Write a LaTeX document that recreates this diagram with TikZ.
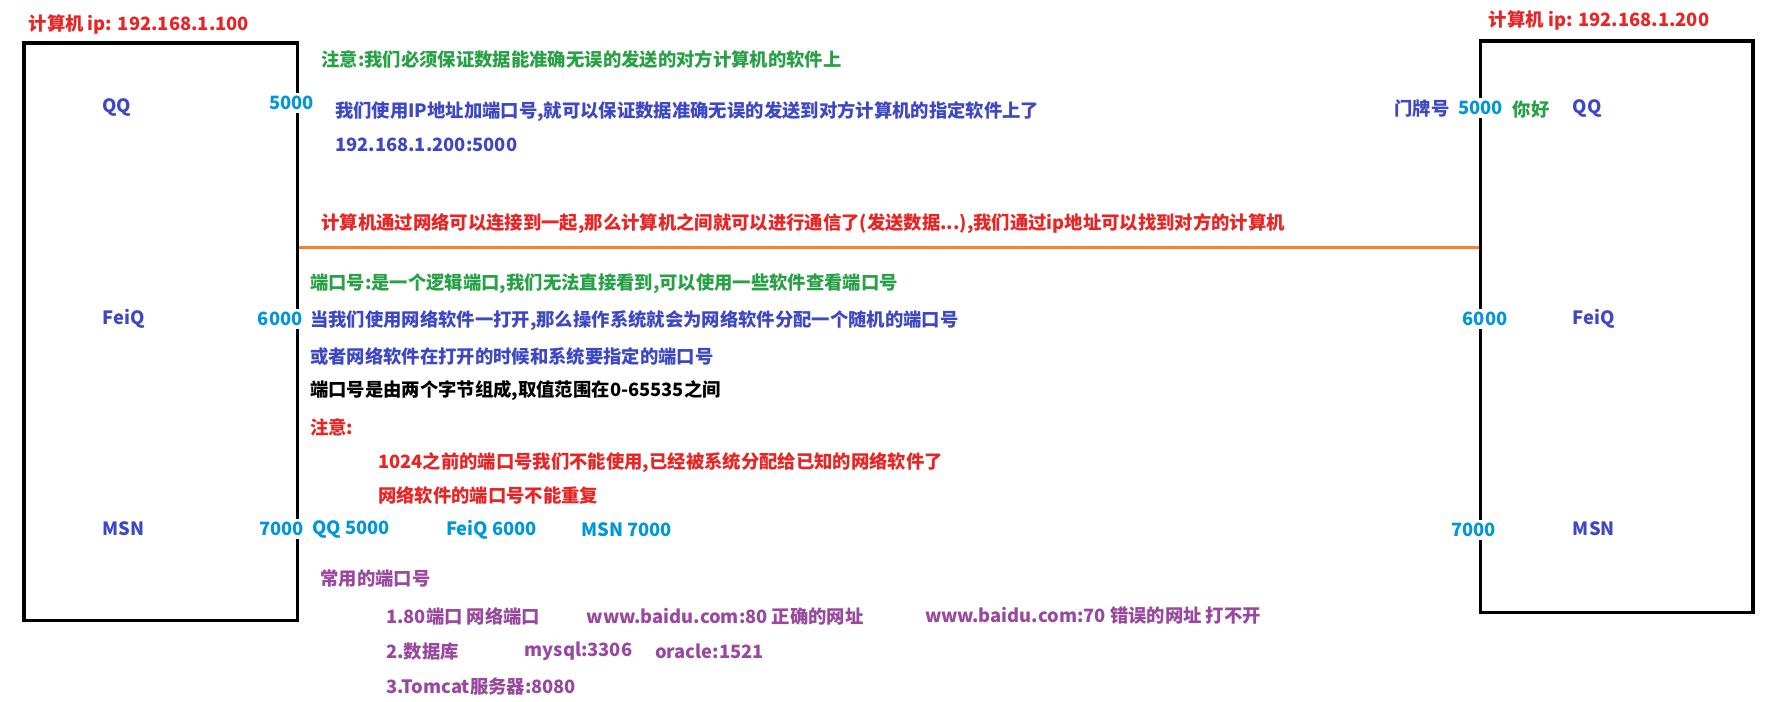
\documentclass[tikz,border=0pt]{standalone}
\usepackage{fontspec}
\setmainfont{Noto Sans CJK SC}
\usetikzlibrary{positioning}
\definecolor{tagred}{RGB}{232,36,36}
\definecolor{notegreen}{RGB}{40,160,70}
\definecolor{appblue}{RGB}{62,72,196}
\definecolor{portcyan}{RGB}{0,150,220}
\definecolor{listpurple}{RGB}{152,72,158}
\definecolor{netorange}{RGB}{255,127,39}
\newcommand\diafont{\fontsize{9.2}{11}\selectfont\bfseries}
\tikzset{
  pcbox/.style   = {draw, line width=1.7pt, inner sep=0pt},
  txt/.style     = {anchor=west, inner sep=0pt, font=\diafont},
  app/.style     = {anchor=west, inner sep=0pt, text=appblue, font=\diafont},
  port/.style    = {fill=white, text=portcyan, inner sep=1.5pt, font=\diafont},
  netline/.style = {netorange, line width=1.7pt}
}
\begin{document}
\begin{tikzpicture}[x=0.02cm, y=-0.02cm]
  \useasboundingbox (0,0) rectangle (1568,618);
  % the two computers
  \node[pcbox, minimum width=4.82cm, minimum height=10.18cm] (lpc) at (141.5,292.5) {};
  \node[pcbox, minimum width=4.8cm, minimum height=10.08cm]  (rpc) at (1425,288) {};
  \node[txt, text=tagred] (lip) at (25,22) {计算机 ip: 192.168.1.100};
  \node[txt, text=tagred] (rip) at (1312,18) {计算机 ip: 192.168.1.200};

  % software on each side
  \node[app] (lqq)   at (90,95)  {QQ};
  \node[app] (lfeiq) at (90,281) {FeiQ};
  \node[app] (lmsn)  at (90,466) {MSN};
  \node[app] (rqq)   at (1386,96)  {QQ};
  \node[app] (rfeiq) at (1386,281) {FeiQ};
  \node[app] (rmsn)  at (1386,466) {MSN};

  % ports on the box edges
  \node[port] (lp5) at (257,91)  {5000};
  \node[port] (lp6) at (247,281) {6000};
  \node[port] (lp7) at (248,466) {7000};
  \node[port] (rp5) at (1305,95)  {5000};
  \node[port] (rp6) at (1309,281) {6000};
  \node[port] (rp7) at (1299,467) {7000};
  \node[app, anchor=east]        (door)  at (1278,96) {门牌号};
  \node[txt, text=notegreen]     (hello) at (1333,97) {你好};

  % network
  \coordinate (net) at (700,218);
  \draw[netline] (lpc.east |- net) -- (rpc.west |- net);
  \node[txt, text=tagred] (netnote) at (283,197) {计算机通过网络可以连接到一起,那么计算机之间就可以进行通信了(发送数据...),我们通过ip地址可以找到对方的计算机};

  % upper notes
  \node[txt, text=notegreen] (n1) at (283,52) {注意:我们必须保证数据能准确无误的发送的对方计算机的软件上};
  \node[txt, text=appblue]   (n2) at (295,98) {我们使用IP地址加端口号,就可以保证数据准确无误的发送到对方计算机的指定软件上了};
  \node[txt, text=appblue, below=0.6cm of n2.west, anchor=west] (n3) {192.168.1.200:5000};

  % port notes
  \node[txt, text=notegreen] (p1) at (273,250) {端口号:是一个逻辑端口,我们无法直接看到,可以使用一些软件查看端口号};
  \node[txt, text=appblue, below=0.66cm of p1.west, anchor=west] (p2) {当我们使用网络软件一打开,那么操作系统就会为网络软件分配一个随机的端口号};
  \node[txt, text=appblue, below=0.62cm of p2.west, anchor=west] (p3) {或者网络软件在打开的时候和系统要指定的端口号};
  \node[txt, below=0.6cm of p3.west, anchor=west]                 (p4) {端口号是由两个字节组成,取值范围在0-65535之间};
  \node[txt, text=tagred, below=0.66cm of p4.west, anchor=west]  (p5) {注意:};
  \node[txt, text=tagred] (p6) at (333,408) {1024之前的端口号我们不能使用,已经被系统分配给已知的网络软件了};
  \node[txt, text=tagred, below=0.58cm of p6.west, anchor=west]  (p7) {网络软件的端口号不能重复};
  \node[txt, text=portcyan] (e1) at (275,467) {QQ 5000};
  \node[txt, text=portcyan] (e2) at (393,467) {FeiQ 6000};
  \node[txt, text=portcyan] (e3) at (512,467) {MSN 7000};

  % common ports
  \node[txt, text=listpurple] (c0) at (282,510) {常用的端口号};
  \node[txt, text=listpurple] (c1) at (340,543) {1.80端口 网络端口};
  \node[txt, text=listpurple] (c1b) at (517,543) {www.baidu.com:80 正确的网址};
  \node[txt, text=listpurple] (c1c) at (815,543) {www.baidu.com:70 错误的网址 打不开};
  \node[txt, text=listpurple] (c2) at (340,574) {2.数据库};
  \node[txt, text=listpurple] (c2b) at (462,574) {mysql:3306};
  \node[txt, text=listpurple] (c2c) at (577,574) {oracle:1521};
  \node[txt, text=listpurple] (c3) at (340,605) {3.Tomcat服务器:8080};
\end{tikzpicture}
\end{document}
